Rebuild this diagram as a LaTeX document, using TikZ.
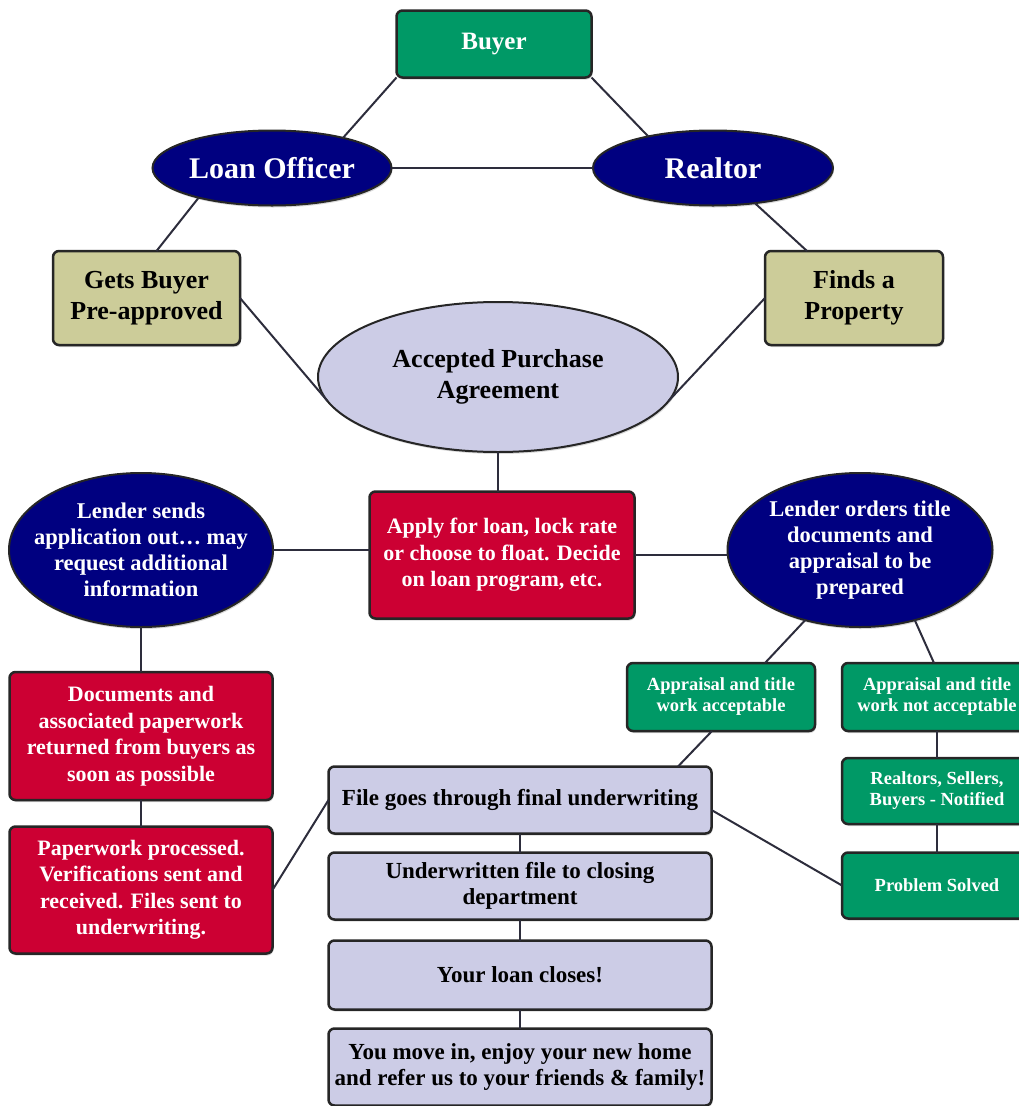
\documentclass[tikz,border=0pt]{standalone}
\usepackage{fontspec}
\setmainfont{Liberation Serif}
\usetikzlibrary{shapes.geometric,shadows,positioning}

\definecolor{buyergreen}{RGB}{0,153,102}
\definecolor{officenavy}{RGB}{0,0,128}
\definecolor{khaki}{RGB}{204,204,153}
\definecolor{lavender}{RGB}{204,204,230}
\definecolor{loanred}{RGB}{204,0,51}
\definecolor{edgegray}{RGB}{45,45,60}

\begin{document}
\begin{tikzpicture}[x=1pt,y=-1pt,node distance=19pt,
  every edge/.style={draw=edgegray,line width=2pt}]
  \tikzstyle{box}=[rectangle,rounded corners=6pt,draw=black!85,line width=2.5pt,
    align=center,inner sep=0pt,outer sep=0pt,
    drop shadow={shadow xshift=1pt,shadow yshift=-2pt,opacity=.3}]
  \tikzstyle{bubble}=[ellipse,draw=black!85,line width=2pt,align=center,
    inner xsep=-35pt,inner ysep=-20pt,outer sep=0pt,
    drop shadow={shadow xshift=1pt,shadow yshift=-2pt,opacity=.3}]
  \tikzstyle{greenbox}=[box,fill=buyergreen,text=white,
    font=\bfseries\fontsize{18.5}{21}\selectfont]
  \tikzstyle{khakibox}=[box,fill=khaki,text=black,
    minimum height=94pt,font=\bfseries\fontsize{26}{31}\selectfont]
  \tikzstyle{redbox}=[box,fill=loanred,text=white,
    font=\bfseries\fontsize{22}{26.5}\selectfont]
  \tikzstyle{lavbox}=[box,fill=lavender,text=black,minimum width=383pt,
    minimum height=67pt,font=\bfseries\fontsize{23}{26}\selectfont]
  \tikzstyle{navybubble}=[bubble,fill=officenavy,text=white,
    font=\bfseries\fontsize{22.5}{26}\selectfont]

  \useasboundingbox (0,0) rectangle (1019,1106);

  % people
  \node[greenbox,minimum width=195pt,minimum height=67pt,
    font=\bfseries\fontsize{25}{28}\selectfont] (buyer) at (494,44) {Buyer};
  \node[navybubble,minimum width=239pt,minimum height=75pt,
    font=\bfseries\fontsize{30}{34}\selectfont] (officer) at (272,168) {Loan Officer};
  \node[navybubble,minimum width=240pt,minimum height=75pt,
    font=\bfseries\fontsize{30}{34}\selectfont] (realtor) at (713,168) {Realtor};
  \node[khakibox,minimum width=187pt] (preapproved) at (146.5,298) {Gets Buyer\\Pre-approved};
  \node[khakibox,minimum width=178pt] (property) at (854,298) {Finds a\\Property};
  \node[bubble,fill=lavender,minimum width=360pt,minimum height=150pt,
    font=\bfseries\fontsize{26}{31}\selectfont] (agreement) at (498,377) {Accepted Purchase\\Agreement};

  % loan application
  \node[redbox,minimum width=265pt,minimum height=127pt] (apply) at (502,555)
    {Apply for loan, lock rate\\or choose to float. Decide\\on loan program, etc.};
  \node[navybubble,minimum width=264pt,minimum height=154pt] (sends) at (141,550)
    {Lender sends\\application out… may\\request additional\\information};
  \node[navybubble,minimum width=265pt,minimum height=154pt] (orders) at (860,550)
    {Lender orders title\\documents and\\appraisal to be\\prepared};
  \node[redbox,minimum width=263pt,minimum height=128pt] (documents) at (141,736)
    {Documents and\\associated paperwork\\returned from buyers as\\soon as possible};
  \node[redbox,minimum width=263pt,minimum height=127pt] (processed) at (141,890)
    {Paperwork processed.\\Verifications sent and\\received. Files sent to\\underwriting.};

  % appraisal and title
  \node[greenbox,minimum width=188pt,minimum height=68pt] (acceptable) at (721,697)
    {Appraisal and title\\work acceptable};
  \node[greenbox,minimum width=190pt,minimum height=68pt] (notacceptable) at (937,697)
    {Appraisal and title\\work not acceptable};
  \node[greenbox,minimum width=190pt,minimum height=66pt] (notified) at (937,791)
    {Realtors, Sellers,\\Buyers - Notified};
  \node[greenbox,minimum width=190pt,minimum height=66pt] (solved) at (937,885.5)
    {Problem Solved};

  % closing
  \node[lavbox] (underwriting) at (520,800) {File goes through final underwriting};
  \node[lavbox,below=19pt of underwriting] (closing) {Underwritten file to closing\\department};
  \node[lavbox,minimum height=69pt,below=21pt of closing] (closes) {Your loan closes!};
  \node[lavbox,minimum height=77pt,below=19pt of closes] (movein)
    {You move in, enjoy your new home\\and refer us to your friends \& family!};

  \path
  (buyer.south west) edge (officer.23)
  (buyer.south east) edge (realtor.154)
  (officer) edge (realtor)
  (officer.202) edge ([xshift=10pt]preapproved.north)
  (realtor.-40) edge ([xshift=-47pt]property.north)
  (preapproved.east) edge (agreement.188)
  (property.west) edge (agreement.-8)
  (agreement.south) edge (agreement.south |- apply.north)
  (sends.east) edge (sends.east -| apply.west)
  (apply.east) edge (apply.east -| orders.west)
  (sends.south) edge (documents.north)
  (documents) edge (processed)
  (processed.east) edge (underwriting.west)
  (orders.232) edge ([xshift=44pt]acceptable.north)
  (orders.308) edge ([xshift=-3pt]notacceptable.north)
  ([xshift=-9pt]acceptable.south) edge ([xshift=158pt]underwriting.north)
  (notacceptable) edge (notified)
  (notified) edge (solved)
  ([yshift=-10pt]underwriting.east) edge (solved.west)
  (underwriting) edge (closing)
  (closing) edge (closes)
  (closes) edge (movein);
\end{tikzpicture}
\end{document}
